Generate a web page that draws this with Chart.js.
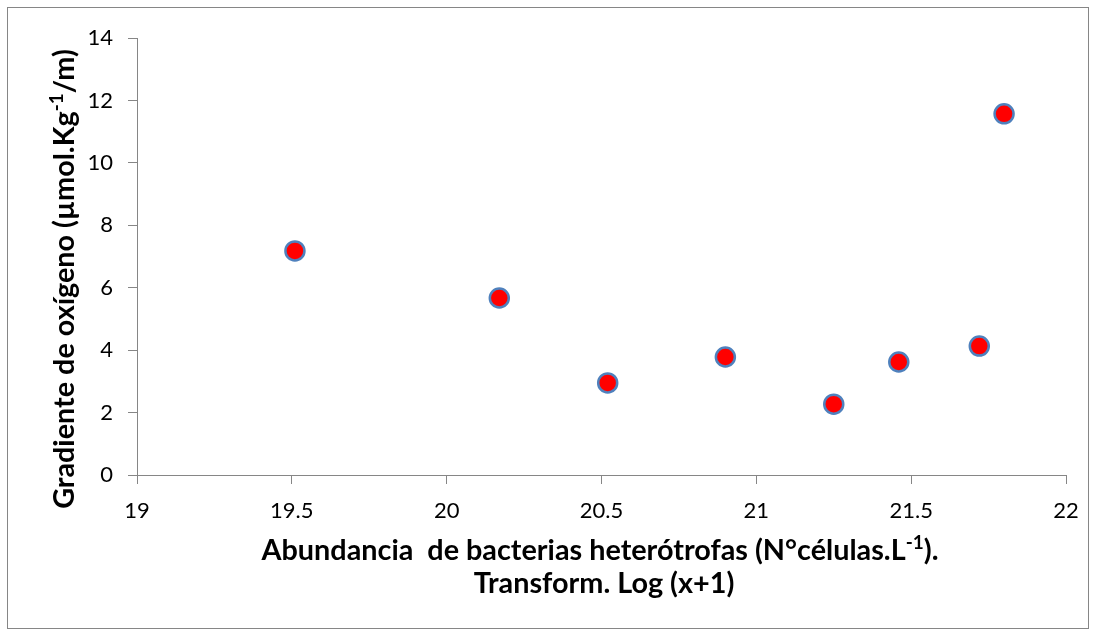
<!DOCTYPE html>
<html>
<head>
<meta charset="utf-8">
<script src="https://cdn.jsdelivr.net/npm/chart.js@4"></script>
<style>
  html, body { margin: 0; padding: 0; background: #fff; }
  canvas { display: block; }
</style>
</head>
<body>
<canvas id="chart" width="1096" height="636"></canvas>
<script>
// valores
const abundancia = [19.51, 20.17, 20.52, 20.90, 21.25, 21.46, 21.72, 21.80];
const gradiente = [7.18, 5.67, 2.95, 3.78, 2.27, 3.62, 4.13, 11.57];

const xTitle1 = [['Abundancia  de bacterias heterótrofas (N°células.L', false], ['-1', true], [').', false]];
const xTitle2 = [['Transform. Log (x+1)', false]];
const yTitle = [['Gradiente de oxígeno (µmol.Kg', false], ['-1', true], ['/m)', false]];

const axisGrey = '#868686';
const tickFont = { family: 'Lato', size: 22 };
const titleSize = 28.8;

function richWidth(ctx, parts, size) {
  let w = 0;
  parts.forEach(([t, sup]) => {
    ctx.font = 'bold ' + (sup ? Math.round(size * 0.65) : size) + 'px Lato';
    w += ctx.measureText(t).width;
  });
  return w;
}

function drawRich(ctx, parts, cx, baseline, size) {
  let x = cx - richWidth(ctx, parts, size) / 2;
  parts.forEach(([t, sup]) => {
    ctx.font = 'bold ' + (sup ? Math.round(size * 0.65) : size) + 'px Lato';
    ctx.fillText(t, x, sup ? baseline - size * 0.38 : baseline);
    x += ctx.measureText(t).width;
  });
}

const frame = {
  id: 'frame',
  beforeDraw(chart) {
    const ctx = chart.ctx;
    ctx.save();
    ctx.fillStyle = '#fff';
    ctx.fillRect(0, 0, chart.width, chart.height);
    ctx.strokeStyle = axisGrey;
    ctx.lineWidth = 1;
    ctx.strokeRect(7.5, 7.5, 1081, 621);
    ctx.restore();
  },
  afterDraw(chart) {
    const ctx = chart.ctx;
    ctx.save();
    ctx.fillStyle = '#000';
    ctx.textBaseline = 'alphabetic';
    ctx.textAlign = 'left';
    drawRich(ctx, xTitle1, 600, 560, titleSize);
    drawRich(ctx, xTitle2, 604, 593, titleSize);
    ctx.translate(74, 279);
    ctx.rotate(-Math.PI / 2);
    drawRich(ctx, yTitle, 0, 0, titleSize);
    ctx.restore();
  }
};

new Chart(document.getElementById('chart'), {
  type: 'scatter',
  data: {
    datasets: [{
      data: abundancia.map((x, i) => ({ x: x, y: gradiente[i] })),
      backgroundColor: '#ff0000',
      borderColor: '#4f81bd',
      borderWidth: 2.5,
      pointRadius: 9.5,
      pointHoverRadius: 9.5
    }]
  },
  options: {
    responsive: false,
    animation: false,
    events: [],
    layout: { padding: { left: 0, top: 38, right: 30, bottom: 0 } },
    plugins: { legend: { display: false }, tooltip: { enabled: false } },
    scales: {
      x: {
        type: 'linear',
        min: 19,
        max: 22,
        ticks: {
          stepSize: 0.5, font: tickFont, color: '#000', padding: 14, maxRotation: 0,
          callback: v => String(Number(v.toFixed(1)))
        },
        grid: { drawOnChartArea: false, drawTicks: true, tickLength: 9, color: axisGrey },
        border: { color: axisGrey },
        afterFit: s => { s.height = 161; }
      },
      y: {
        min: 0,
        max: 14,
        ticks: { stepSize: 2, font: tickFont, color: '#000', padding: 15 },
        grid: { drawOnChartArea: false, drawTicks: true, tickLength: 9, color: axisGrey },
        border: { color: axisGrey },
        afterFit: s => { s.width = 137; }
      }
    }
  },
  plugins: [frame]
});
</script>
</body>
</html>
